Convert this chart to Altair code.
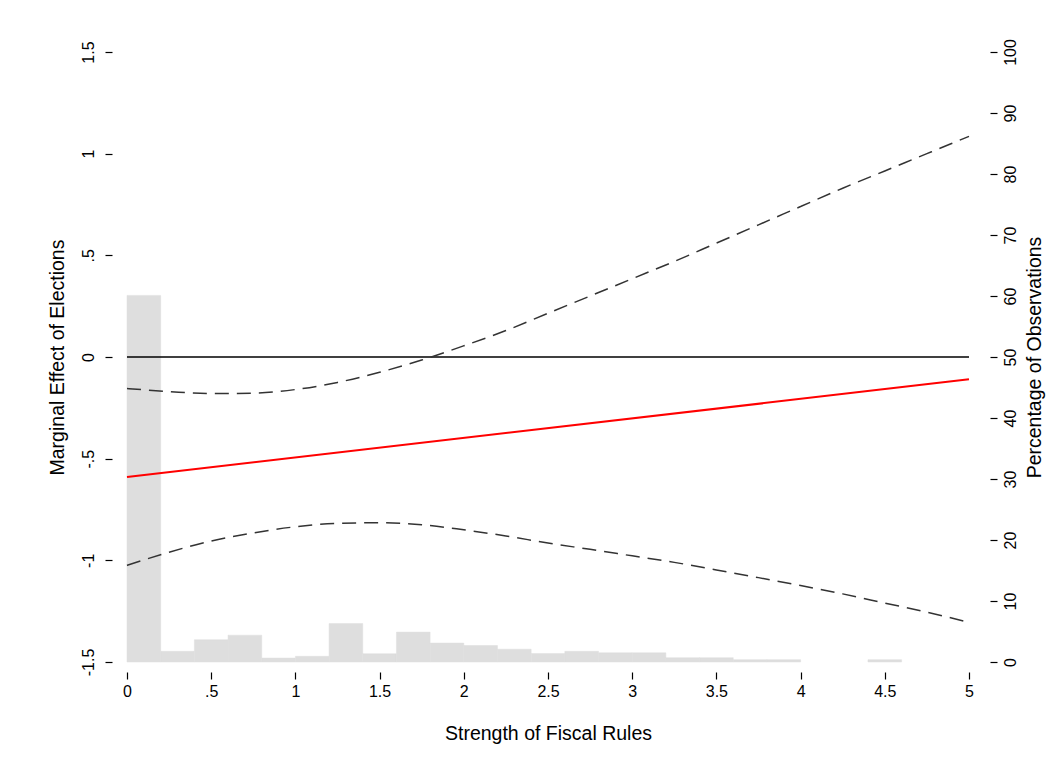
import altair as alt
import pandas as pd

# ---- data ----
z_grid = [0, 0.25, 0.5, 0.75, 1.0, 1.25, 1.5, 1.75, 2.0, 2.25, 2.5,
          2.75, 3.0, 3.25, 3.5, 3.75, 4.0, 4.25, 4.5, 4.75, 5.0]
upper_ci = [-0.155, -0.17, -0.18, -0.178, -0.16, -0.125, -0.075, -0.015, 0.055, 0.13, 0.215,
            0.30, 0.385, 0.47, 0.56, 0.65, 0.74, 0.83, 0.915, 1.0, 1.085]
lower_ci = [-1.025, -0.96, -0.905, -0.865, -0.835, -0.818, -0.815, -0.825, -0.85, -0.88, -0.915,
            -0.946, -0.978, -1.01, -1.047, -1.085, -1.124, -1.165, -1.21, -1.255, -1.305]
effect_z = [0, 5]
effect_val = [-0.59, -0.11]

bin_start = [0.0, 0.2, 0.4, 0.6, 0.8, 1.0, 1.2, 1.4, 1.6, 1.8, 2.0, 2.2, 2.4,
             2.6, 2.8, 3.0, 3.2, 3.4, 3.6, 3.8, 4.4]
bin_pct = [60.1, 1.75, 3.65, 4.4, 0.65, 0.93, 6.3, 1.36, 4.9, 3.1, 2.7, 2.1, 1.4,
           1.75, 1.5, 1.5, 0.7, 0.7, 0.38, 0.38, 0.38]
bin_width = 0.2

x_ticks = [0, 0.5, 1, 1.5, 2, 2.5, 3, 3.5, 4, 4.5, 5]
y_ticks = [-1.5, -1, -0.5, 0, 0.5, 1, 1.5]
pct_ticks = [0, 10, 20, 30, 40, 50, 60, 70, 80, 90, 100]

FONT = "Liberation Sans"
LABEL_SIZE = 16
TITLE_SIZE = 19.5
fmt = "(datum.value < 0 ? '-' : '') + replace(toString(abs(datum.value)), '0.', '.')"

hist = pd.DataFrame({
    "start": bin_start,
    "end": [s + bin_width for s in bin_start],
    "pct": bin_pct,
    "base": [0] * len(bin_start),
})
ci = pd.DataFrame({
    "z": z_grid * 2,
    "v": upper_ci + lower_ci,
    "bound": ["upper"] * len(z_grid) + ["lower"] * len(z_grid),
})
eff = pd.DataFrame({"z": effect_z, "v": effect_val})

xscale = alt.Scale(domain=[0, 5], nice=False, zero=False)
yscale = alt.Scale(domain=[-1.5, 1.5], nice=False, zero=False)

x_axis = alt.Axis(
    values=x_ticks, labelExpr=fmt, orient="bottom", offset=10, domain=False, grid=False,
    tickSize=7, tickColor="black", tickWidth=1.2, labelFontSize=LABEL_SIZE, labelFont=FONT,
    labelColor="black", labelPadding=4, labelFlush=False, labelOverlap=False,
    title="Strength of Fiscal Rules", titleFont=FONT, titleFontSize=TITLE_SIZE,
    titleFontWeight="normal", titleColor="black", titlePadding=25,
)

bars = alt.Chart(hist).mark_rect(color="#dedede", stroke="#dedede", strokeWidth=0.5).encode(
    x=alt.X("start:Q", scale=xscale, axis=x_axis),
    x2="end:Q",
    y=alt.Y("pct:Q", scale=alt.Scale(domain=[0, 100], nice=False),
            axis=alt.Axis(
                orient="right", values=pct_ticks, offset=21, domain=False, grid=False,
                tickSize=7, tickColor="black", tickWidth=1.2,
                labelAngle=270, labelAlign="center", labelBaseline="top",
                labelFontSize=LABEL_SIZE, labelFont=FONT, labelColor="black", labelPadding=5,
                labelFlush=False, labelOverlap=False,
                title="Percentage of Observations", titleAngle=270, titleBaseline="top",
                titleFont=FONT, titleFontSize=TITLE_SIZE, titleFontWeight="normal",
                titleColor="black", titlePadding=7,
            )),
    y2="base:Q",
)

zero_rule = alt.Chart(pd.DataFrame({"z0": [0], "z1": [5], "v": [0]})).mark_rule(
    color="black", strokeWidth=1.5
).encode(
    x=alt.X("z0:Q", scale=xscale),
    x2="z1:Q",
    y=alt.Y("v:Q", scale=yscale,
            axis=alt.Axis(
                orient="left", values=y_ticks, labelExpr=fmt, offset=15, domain=False,
                grid=False, tickSize=7, tickColor="black", tickWidth=1.2,
                labelAngle=270, labelAlign="center", labelBaseline="bottom",
                labelFontSize=LABEL_SIZE, labelFont=FONT, labelColor="black", labelPadding=9,
                labelFlush=False, labelOverlap=False,
                title="Marginal Effect of Elections", titleFont=FONT, titleFontSize=TITLE_SIZE,
                titleFontWeight="normal", titleColor="black", titlePadding=13,
            )),
)

ci_lines = alt.Chart(ci).mark_line(
    color="#333333", strokeWidth=1.5, strokeDash=[14, 8], interpolate="monotone"
).encode(
    x=alt.X("z:Q", scale=xscale),
    y=alt.Y("v:Q", scale=yscale),
    detail="bound:N",
)

eff_line = alt.Chart(eff).mark_line(color="#ff0000", strokeWidth=2).encode(
    x=alt.X("z:Q", scale=xscale),
    y=alt.Y("v:Q", scale=yscale),
)

effects = alt.layer(zero_rule, ci_lines, eff_line)

chart = alt.layer(bars, effects).resolve_scale(y="independent").properties(
    width=842, height=610,
    autosize=alt.AutoSizeParams(type="none"),
    padding={"left": 119, "top": 44, "right": 80, "bottom": 100},
).configure(background="white").configure_view(strokeWidth=0, stroke="transparent")

chart.save("out.html", embed_options={"renderer": "svg", "actions": False})
